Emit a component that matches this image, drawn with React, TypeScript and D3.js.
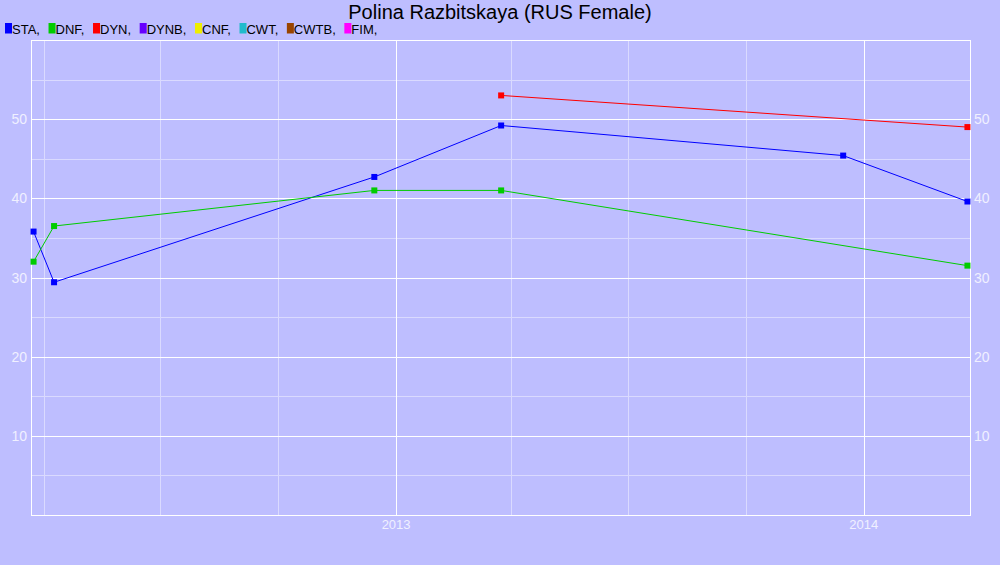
import React from "react";
import * as d3 from "d3";

const title = "Polina Razbitskaya (RUS Female)";
const legendNames = ["STA", "DNF", "DYN", "DYNB", "CNF", "CWT", "CWTB", "FIM"];
const legendColors = ["#0000ff", "#00cc00", "#ff0000", "#6600ff", "#eeee00", "#22bbcc", "#994400", "#ff00ff"];

const staDates = ["2012-03-24", "2012-04-09", "2012-12-15", "2013-03-24", "2013-12-16", "2014-03-23"];
const staValues = [35.8, 29.4, 42.7, 49.2, 45.4, 39.6];
const dnfDates = ["2012-03-24", "2012-04-09", "2012-12-15", "2013-03-24", "2014-03-23"];
const dnfValues = [32.0, 36.5, 41.0, 41.0, 31.5];
const dynDates = ["2013-03-24", "2014-03-23"];
const dynValues = [53.0, 49.0];

const yTicks = [10, 20, 30, 40, 50];
const yMinorTicks = [5, 15, 25, 35, 45, 55];
const xDomain = ["2012-03-22", "2014-03-25"];
const yDomain = [0, 60];

const W = 1000, H = 565;
const M = { left: 31, right: 970, top: 40, bottom: 515 };

function measure(text: string, font: string) {
  const c = document.createElement("canvas").getContext("2d");
  if (!c) return text.length * 7;
  c.font = font;
  return c.measureText(text).width;
}

export default function App() {
  const parse = (s: string) => new Date(s + "T00:00:00Z");
  const x = d3.scaleUtc().domain(xDomain.map(parse)).range([M.left, M.right]);
  const y = d3.scaleLinear().domain(yDomain).range([M.bottom, M.top]);

  const years = d3.utcYear.range(x.domain()[0], x.domain()[1]).filter(d => d > x.domain()[0]);
  const quarters = d3.utcMonth.every(3)!.range(x.domain()[0], x.domain()[1]).filter(d => d.getUTCMonth() !== 0);

  const series = [
    { dates: staDates, values: staValues, color: legendColors[0] },
    { dates: dnfDates, values: dnfValues, color: legendColors[1] },
    { dates: dynDates, values: dynValues, color: legendColors[2] },
  ];
  const line = d3.line<[Date, number]>().x(d => x(d[0])).y(d => y(d[1]));

  const font = "13px 'Liberation Sans', Arial, sans-serif";
  let lx = 5;
  const legendItems = legendNames.map((n, i) => {
    const label = n + ",";
    const item = { x: lx, label, color: legendColors[i] };
    lx += 7 + measure(label, font) + 8.6;
    return item;
  });

  const axisColor = "#f0f0ff";
  return (
    <svg width={W} height={H} style={{ position: "absolute", left: 0, top: 0, display: "block" }}
      fontFamily="'Liberation Sans', Arial, sans-serif">
      <rect x={0} y={0} width={W} height={H} fill="#bebeff" />
      <text x={500} y={19} textAnchor="middle" fontSize={20} fill="#000">{title}</text>
      {legendItems.map((it, i) => (
        <g key={i}>
          <rect x={it.x} y={23} width={7} height={10.5} fill={it.color} />
          <text x={it.x + 7} y={33.5} fontSize={13} fill="#000">{it.label}</text>
        </g>
      ))}
      {/* minor grid */}
      {yMinorTicks.map(t => (
        <line key={"ym" + t} x1={M.left} x2={M.right} y1={Math.round(y(t)) + 0.5} y2={Math.round(y(t)) + 0.5} stroke="#dadaff" strokeWidth={1} />
      ))}
      {quarters.map((d, i) => (
        <line key={"xm" + i} x1={Math.round(x(d)) + 0.5} x2={Math.round(x(d)) + 0.5} y1={M.top} y2={M.bottom} stroke="#dadaff" strokeWidth={1} />
      ))}
      {/* major grid */}
      {yTicks.map(t => (
        <line key={"y" + t} x1={M.left} x2={M.right} y1={Math.round(y(t)) + 0.5} y2={Math.round(y(t)) + 0.5} stroke="#ffffff" strokeWidth={1} />
      ))}
      {years.map((d, i) => (
        <line key={"x" + i} x1={Math.round(x(d)) + 0.5} x2={Math.round(x(d)) + 0.5} y1={M.top} y2={M.bottom} stroke="#ffffff" strokeWidth={1} />
      ))}
      <rect x={M.left + 0.5} y={M.top + 0.5} width={M.right - M.left} height={M.bottom - M.top} fill="none" stroke="#ffffff" strokeWidth={1} />
      {/* axis labels */}
      {yTicks.map(t => (
        <g key={"yl" + t}>
          <text x={27} y={y(t) + 5} textAnchor="end" fontSize={14} fill={axisColor}>{t}</text>
          <text x={974} y={y(t) + 5} textAnchor="start" fontSize={14} fill={axisColor}>{t}</text>
        </g>
      ))}
      {years.map((d, i) => (
        <text key={"xl" + i} x={x(d)} y={529} textAnchor="middle" fontSize={13} fill={axisColor}>{d3.utcFormat("%Y")(d)}</text>
      ))}
      {/* series */}
      {series.map((s, si) => {
        const pts: [Date, number][] = s.dates.map((d, i) => [parse(d), s.values[i]]);
        return (
          <g key={"s" + si}>
            <path d={line(pts) || ""} fill="none" stroke={s.color} strokeWidth={1} />
            {pts.map((p, i) => (
              <rect key={i} x={x(p[0]) - 3} y={y(p[1]) - 3} width={6} height={6} fill={s.color} />
            ))}
          </g>
        );
      })}
    </svg>
  );
}
